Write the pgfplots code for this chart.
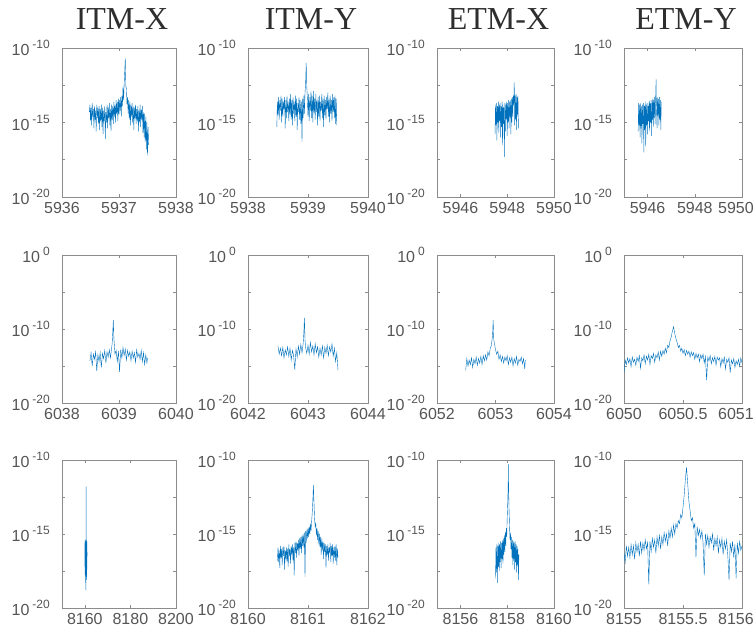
\documentclass[border=0pt]{standalone}
\usepackage{fontspec}
\setmainfont{Liberation Serif}
\newfontfamily\ticksf{Liberation Sans}
\usepackage{pgfplots}
\pgfplotsset{compat=1.18}
\definecolor{mblue}{HTML}{0072BD}
\definecolor{axgray}{HTML}{8C8C8C}
\definecolor{lblgray}{HTML}{555555}
\definecolor{ttlgray}{HTML}{2E2E2E}
\newcommand\pw[1]{10\hspace{3pt}\raisebox{7pt}{\fontsize{12}{12}\selectfont #1}}
\newcommand\rl[1]{\hspace*{-12pt}#1}
\pgfplotsset{
  panel/.style={
    scale only axis, anchor=south west,
    axis line style={axgray, line width=0.8pt},
    tick style={axgray, line width=0.6pt},
    tick align=inside, major tick length=3pt, minor tick length=3pt,
    tick label style={font=\ticksf\fontsize{16}{16}\selectfont, text=lblgray},
    xticklabel style={inner sep=0pt, anchor=north, yshift=-5pt},
    yticklabel style={inner sep=0pt, anchor=east, xshift=-12pt},
    title style={font=\fontsize{32}{32}\selectfont, text=ttlgray, at={(0.5,1)}, anchor=base, yshift=12pt, xshift=3pt},
    cycle list={{mblue, line width=1.2pt, line join=round, no marks}},
  },
  r1/.style={ymin=-20, ymax=-10, ytick={-20,-15,-10}, yticklabels={\pw{-20},\pw{-15},\pw{-10}}, minor ytick={-17.5,-12.5}},
  r2/.style={ymin=-20, ymax=0, ytick={-20,-10,0}, yticklabels={\pw{-20},\pw{-10},\pw{0}}, minor ytick={-15,-5}},
}
\begin{document}
\begin{tikzpicture}
\useasboundingbox (0,0) rectangle (756pt,637pt);
% ---------------- Row 1 ----------------
\begin{axis}[panel, r1, at={(62pt,440pt)}, width=114pt, height=149pt,
  xmin=5936, xmax=5938, xtick={5936,5937,5938}, xticklabels={5936,5937,5938}, title={ITM-X}]
\addplot table[row sep=\\]{x y\\
5936.48 -14.3\\ 5936.49 -13.8\\ 5936.50 -14.9\\ 5936.51 -14.0\\ 5936.52 -15.2\\ 5936.53 -13.7\\ 5936.54 -14.6\\ 5936.55 -14.1\\
5936.56 -15.4\\ 5936.57 -13.9\\ 5936.58 -14.8\\ 5936.59 -14.2\\ 5936.60 -15.6\\ 5936.61 -13.8\\ 5936.62 -14.7\\ 5936.63 -14.0\\
5936.64 -15.1\\ 5936.65 -13.9\\ 5936.66 -15.5\\ 5936.67 -14.1\\ 5936.68 -14.9\\ 5936.69 -13.8\\ 5936.70 -15.3\\ 5936.71 -14.0\\
5936.72 -15.8\\ 5936.73 -14.2\\ 5936.74 -14.9\\ 5936.75 -13.9\\ 5936.76 -16.1\\ 5936.77 -14.3\\ 5936.78 -15.0\\ 5936.79 -13.8\\
5936.80 -15.4\\ 5936.81 -14.0\\ 5936.82 -14.7\\ 5936.83 -13.7\\ 5936.84 -15.2\\ 5936.85 -14.1\\ 5936.86 -15.6\\ 5936.87 -13.8\\
5936.88 -14.8\\ 5936.89 -13.9\\ 5936.90 -15.1\\ 5936.91 -13.6\\ 5936.92 -14.6\\ 5936.93 -13.8\\ 5936.94 -15.0\\ 5936.95 -13.5\\
5936.96 -14.4\\ 5936.97 -13.6\\ 5936.98 -14.9\\ 5936.99 -13.4\\ 5937.00 -14.5\\ 5937.01 -13.5\\ 5937.02 -14.2\\ 5937.03 -13.3\\
5937.04 -14.6\\ 5937.05 -13.2\\ 5937.06 -13.9\\ 5937.07 -12.6\\ 5937.08 -13.5\\ 5937.09 -12.5\\ 5937.10 -11.6\\ 5937.11 -10.7\\
5937.12 -12.6\\ 5937.13 -12.7\\ 5937.14 -13.8\\ 5937.15 -13.3\\ 5937.16 -14.4\\ 5937.17 -13.5\\ 5937.18 -14.8\\ 5937.19 -13.6\\
5937.20 -15.2\\ 5937.21 -13.8\\ 5937.22 -14.6\\ 5937.23 -13.7\\ 5937.24 -15.0\\ 5937.25 -13.9\\ 5937.26 -15.5\\ 5937.27 -14.0\\
5937.28 -14.7\\ 5937.29 -13.8\\ 5937.30 -15.1\\ 5937.31 -14.1\\ 5937.32 -14.9\\ 5937.33 -13.9\\ 5937.34 -15.6\\ 5937.35 -14.2\\
5937.36 -15.0\\ 5937.37 -13.8\\ 5937.38 -15.3\\ 5937.39 -14.1\\ 5937.40 -14.8\\ 5937.41 -13.9\\ 5937.42 -15.7\\ 5937.43 -14.3\\
5937.44 -16.0\\ 5937.45 -14.4\\ 5937.46 -16.3\\ 5937.47 -14.6\\ 5937.48 -16.8\\ 5937.49 -15.0\\ 5937.50 -17.2\\ 5937.51 -15.3\\
5937.52 -16.5\\
};
\end{axis}
\begin{axis}[panel, r1, at={(248pt,440pt)}, width=120pt, height=149pt,
  xmin=5938, xmax=5940, xtick={5938,5939,5940}, xticklabels={5938,5939,5940}, title={ITM-Y}]
\addplot table[row sep=\\]{x y\\
5938.48 -15.3\\ 5938.49 -13.6\\ 5938.50 -14.5\\ 5938.51 -13.3\\ 5938.52 -14.8\\ 5938.53 -13.5\\ 5938.54 -14.2\\ 5938.55 -13.2\\
5938.56 -15.0\\ 5938.57 -13.4\\ 5938.58 -14.6\\ 5938.59 -13.6\\ 5938.60 -14.1\\ 5938.61 -13.3\\ 5938.62 -15.4\\ 5938.63 -13.5\\
5938.64 -14.7\\ 5938.65 -13.2\\ 5938.66 -14.3\\ 5938.67 -13.6\\ 5938.68 -14.9\\ 5938.69 -13.4\\ 5938.70 -14.5\\ 5938.71 -13.1\\
5938.72 -14.8\\ 5938.73 -13.5\\ 5938.74 -15.2\\ 5938.75 -13.3\\ 5938.76 -14.4\\ 5938.77 -13.6\\ 5938.78 -14.9\\ 5938.79 -13.2\\
5938.80 -14.6\\ 5938.81 -13.4\\ 5938.82 -15.5\\ 5938.83 -13.7\\ 5938.84 -14.3\\ 5938.85 -13.3\\ 5938.86 -14.8\\ 5938.87 -13.5\\
5938.88 -15.1\\ 5938.89 -13.6\\ 5938.90 -16.3\\ 5938.91 -13.4\\ 5938.92 -14.7\\ 5938.93 -13.2\\ 5938.94 -14.4\\ 5938.95 -13.0\\
5938.96 -12.4\\ 5938.97 -11.0\\ 5938.98 -12.6\\ 5938.99 -13.4\\ 5939.00 -14.6\\ 5939.01 -13.1\\ 5939.02 -14.9\\ 5939.03 -13.3\\
5939.04 -14.2\\ 5939.05 -12.9\\ 5939.06 -14.7\\ 5939.07 -13.2\\ 5939.08 -15.0\\ 5939.09 -12.9\\ 5939.10 -14.4\\ 5939.11 -13.4\\
5939.12 -14.8\\ 5939.13 -13.1\\ 5939.14 -14.3\\ 5939.15 -13.5\\ 5939.16 -15.2\\ 5939.17 -13.3\\ 5939.18 -14.6\\ 5939.19 -13.2\\
5939.20 -14.9\\ 5939.21 -13.6\\ 5939.22 -14.2\\ 5939.23 -13.1\\ 5939.24 -14.7\\ 5939.25 -13.4\\ 5939.26 -15.3\\ 5939.27 -13.2\\
5939.28 -14.5\\ 5939.29 -13.5\\ 5939.30 -14.8\\ 5939.31 -13.3\\ 5939.32 -14.1\\ 5939.33 -13.0\\ 5939.34 -14.6\\ 5939.35 -13.4\\
5939.36 -15.0\\ 5939.37 -13.2\\ 5939.38 -14.4\\ 5939.39 -13.5\\ 5939.40 -14.9\\ 5939.41 -13.1\\ 5939.42 -14.3\\ 5939.43 -13.3\\
5939.44 -14.7\\ 5939.45 -13.2\\ 5939.46 -15.1\\ 5939.47 -13.4\\ 5939.48 -15.2\\
};
\end{axis}
\begin{axis}[panel, r1, at={(437pt,440pt)}, width=117pt, height=149pt,
  xmin=5945, xmax=5950, xtick={5946,5948,5950}, xticklabels={5946,5948,5950}, title={ETM-X}]
\addplot table[row sep=\\]{x y\\
5947.48 -15.8\\ 5947.50 -13.8\\ 5947.52 -15.2\\ 5947.54 -13.7\\ 5947.56 -16.2\\ 5947.58 -13.9\\ 5947.60 -15.0\\ 5947.62 -13.6\\
5947.64 -15.7\\ 5947.66 -13.8\\ 5947.68 -14.9\\ 5947.70 -13.7\\ 5947.72 -16.0\\ 5947.74 -13.9\\ 5947.76 -15.3\\ 5947.78 -13.6\\
5947.80 -16.5\\ 5947.82 -13.8\\ 5947.84 -15.1\\ 5947.86 -14.0\\ 5947.88 -17.3\\ 5947.90 -13.7\\ 5947.92 -15.6\\ 5947.94 -13.8\\
5947.96 -14.8\\ 5947.98 -13.6\\ 5948.00 -15.9\\ 5948.02 -13.7\\ 5948.04 -15.0\\ 5948.06 -13.5\\ 5948.08 -15.4\\ 5948.10 -13.6\\
5948.12 -14.7\\ 5948.14 -13.5\\ 5948.16 -15.8\\ 5948.18 -13.4\\ 5948.20 -15.0\\ 5948.22 -13.3\\ 5948.24 -14.6\\ 5948.26 -13.2\\
5948.28 -13.8\\ 5948.30 -12.3\\ 5948.31 -13.4\\ 5948.32 -15.2\\ 5948.34 -13.2\\ 5948.36 -14.8\\ 5948.38 -13.1\\ 5948.40 -15.5\\
5948.42 -13.3\\ 5948.44 -14.6\\ 5948.46 -13.2\\ 5948.48 -15.4\\
};
\end{axis}
\begin{axis}[panel, r1, at={(624pt,440pt)}, width=118pt, height=149pt,
  xmin=5945, xmax=5950, xtick={5946,5948,5950}, xticklabels={5946,5948,\rl{5950}}, title={ETM-Y}]
\addplot table[row sep=\\]{x y\\
5945.60 -15.6\\ 5945.62 -13.7\\ 5945.64 -15.2\\ 5945.66 -13.8\\ 5945.68 -16.0\\ 5945.70 -13.7\\ 5945.72 -15.4\\ 5945.74 -13.9\\
5945.76 -16.4\\ 5945.78 -13.8\\ 5945.80 -15.1\\ 5945.82 -13.7\\ 5945.84 -17.0\\ 5945.86 -13.9\\ 5945.88 -15.5\\ 5945.90 -13.6\\
5945.92 -16.6\\ 5945.94 -13.8\\ 5945.96 -15.2\\ 5945.98 -13.7\\ 5946.00 -15.8\\ 5946.02 -13.9\\ 5946.04 -14.9\\ 5946.06 -13.6\\
5946.08 -15.6\\ 5946.10 -13.5\\ 5946.12 -15.0\\ 5946.14 -13.7\\ 5946.16 -15.9\\ 5946.18 -13.5\\ 5946.20 -14.8\\ 5946.22 -13.4\\
5946.24 -15.3\\ 5946.26 -13.5\\ 5946.28 -14.7\\ 5946.30 -13.3\\ 5946.32 -15.1\\ 5946.34 -13.4\\ 5946.36 -12.1\\ 5946.37 -13.6\\
5946.40 -15.4\\ 5946.42 -13.3\\ 5946.44 -14.6\\ 5946.46 -13.4\\ 5946.48 -15.2\\ 5946.50 -13.3\\ 5946.52 -14.8\\ 5946.54 -13.5\\
5946.56 -15.5\\ 5946.58 -13.6\\
};
\end{axis}
% ---------------- Row 2 ----------------
\begin{axis}[panel, r2, at={(62pt,234pt)}, width=114pt, height=148pt,
  xmin=6038, xmax=6040, xtick={6038,6039,6040}, xticklabels={6038,6039,6040}]
\addplot table[row sep=\\]{x y\\
6038.49 -14.3\\ 6038.51 -13.2\\ 6038.53 -15.0\\ 6038.55 -13.4\\ 6038.57 -14.1\\ 6038.59 -13.1\\ 6038.61 -15.7\\ 6038.63 -13.5\\
6038.65 -14.4\\ 6038.67 -13.2\\ 6038.69 -15.2\\ 6038.71 -13.3\\ 6038.73 -14.0\\ 6038.75 -12.9\\ 6038.77 -14.6\\ 6038.79 -13.1\\
6038.81 -13.8\\ 6038.83 -12.8\\ 6038.85 -13.9\\ 6038.87 -12.6\\ 6038.88 -12.0\\ 6038.89 -10.5\\ 6038.90 -8.8\\ 6038.91 -11.2\\
6038.92 -12.3\\ 6038.93 -13.4\\ 6038.95 -12.9\\ 6038.97 -14.4\\ 6038.99 -13.0\\ 6039.01 -15.8\\ 6039.03 -12.8\\ 6039.05 -13.9\\
6039.07 -12.5\\ 6039.09 -13.6\\ 6039.11 -12.7\\ 6039.13 -14.2\\ 6039.15 -12.9\\ 6039.17 -13.7\\ 6039.19 -13.1\\ 6039.21 -14.3\\
6039.23 -13.0\\ 6039.25 -13.9\\ 6039.27 -13.2\\ 6039.29 -14.5\\ 6039.31 -12.8\\ 6039.33 -13.8\\ 6039.35 -13.3\\ 6039.37 -14.1\\
6039.39 -12.9\\ 6039.41 -14.4\\ 6039.43 -13.2\\ 6039.45 -14.8\\ 6039.47 -13.5\\ 6039.49 -14.6\\ 6039.50 -13.9\\
};
\end{axis}
\begin{axis}[panel, r2, at={(248pt,234pt)}, width=120pt, height=148pt,
  xmin=6042, xmax=6044, xtick={6042,6043,6044}, xticklabels={6042,6043,6044}]
\addplot table[row sep=\\]{x y\\
6042.50 -12.3\\ 6042.52 -13.4\\ 6042.54 -12.6\\ 6042.56 -13.6\\ 6042.58 -12.5\\ 6042.60 -13.9\\ 6042.62 -12.8\\ 6042.64 -13.5\\
6042.66 -12.4\\ 6042.68 -13.7\\ 6042.70 -12.6\\ 6042.72 -14.2\\ 6042.74 -12.9\\ 6042.76 -13.6\\ 6042.78 -15.5\\ 6042.80 -12.7\\
6042.82 -13.8\\ 6042.84 -12.3\\ 6042.86 -13.4\\ 6042.88 -12.1\\ 6042.90 -13.2\\ 6042.92 -11.9\\ 6042.93 -10.6\\ 6042.94 -8.5\\
6042.95 -11.4\\ 6042.96 -12.5\\ 6042.98 -13.3\\ 6043.00 -12.2\\ 6043.02 -13.4\\ 6043.04 -11.8\\ 6043.06 -13.1\\ 6043.08 -12.3\\
6043.10 -13.5\\ 6043.12 -12.0\\ 6043.14 -13.2\\ 6043.16 -12.4\\ 6043.18 -13.8\\ 6043.20 -12.6\\ 6043.22 -13.5\\ 6043.24 -12.3\\
6043.26 -13.9\\ 6043.28 -12.5\\ 6043.30 -13.3\\ 6043.32 -12.2\\ 6043.34 -13.6\\ 6043.36 -12.4\\ 6043.38 -13.1\\ 6043.40 -12.0\\
6043.42 -13.7\\ 6043.44 -12.6\\ 6043.46 -14.4\\ 6043.48 -13.2\\ 6043.50 -15.6\\
};
\end{axis}
\begin{axis}[panel, r2, at={(437pt,234pt)}, width=117pt, height=148pt,
  xmin=6052, xmax=6054, xtick={6052,6053,6054}, xticklabels={6052,6053,6054}]
\addplot table[row sep=\\]{x y\\
6052.49 -15.6\\ 6052.51 -14.0\\ 6052.53 -15.0\\ 6052.55 -14.2\\ 6052.57 -14.8\\ 6052.59 -13.9\\ 6052.61 -15.2\\ 6052.63 -14.1\\
6052.65 -14.7\\ 6052.67 -13.8\\ 6052.69 -14.9\\ 6052.71 -14.0\\ 6052.73 -14.6\\ 6052.75 -13.7\\ 6052.77 -14.8\\ 6052.79 -13.6\\
6052.81 -14.3\\ 6052.83 -13.5\\ 6052.85 -14.2\\ 6052.87 -13.1\\ 6052.89 -13.6\\ 6052.91 -12.6\\ 6052.93 -12.2\\ 6052.95 -10.8\\
6052.96 -8.8\\ 6052.97 -11.4\\ 6052.98 -11.9\\ 6053.00 -12.8\\ 6053.02 -13.4\\ 6053.04 -13.0\\ 6053.06 -14.1\\ 6053.08 -13.5\\
6053.10 -14.4\\ 6053.12 -13.7\\ 6053.14 -14.6\\ 6053.16 -13.8\\ 6053.18 -14.3\\ 6053.20 -13.6\\ 6053.22 -14.8\\ 6053.24 -13.9\\
6053.26 -14.5\\ 6053.28 -13.8\\ 6053.30 -15.0\\ 6053.32 -14.0\\ 6053.34 -14.6\\ 6053.36 -13.7\\ 6053.38 -14.9\\ 6053.40 -14.1\\
6053.42 -14.4\\ 6053.44 -13.8\\ 6053.46 -14.7\\ 6053.48 -14.0\\ 6053.50 -15.4\\ 6053.51 -14.2\\
};
\end{axis}
\begin{axis}[panel, r2, at={(624pt,234pt)}, width=118pt, height=148pt,
  xmin=6050, xmax=6051, xtick={6050,6050.5,6051}, xticklabels={6050,6050.5,\rl{6051}}]
\addplot table[row sep=\\]{x y\\
6050.00 -15.9\\ 6050.01 -14.2\\ 6050.02 -14.8\\ 6050.03 -13.9\\ 6050.04 -14.6\\ 6050.05 -14.0\\ 6050.06 -15.1\\ 6050.07 -13.8\\
6050.08 -14.5\\ 6050.09 -14.1\\ 6050.10 -14.9\\ 6050.11 -13.8\\ 6050.12 -14.4\\ 6050.13 -13.6\\ 6050.14 -15.3\\ 6050.15 -13.9\\
6050.16 -14.3\\ 6050.17 -13.5\\ 6050.18 -14.7\\ 6050.19 -13.7\\ 6050.20 -14.2\\ 6050.21 -13.4\\ 6050.22 -14.8\\ 6050.23 -13.6\\
6050.24 -14.0\\ 6050.25 -13.3\\ 6050.26 -14.5\\ 6050.27 -13.5\\ 6050.28 -13.9\\ 6050.29 -13.1\\ 6050.30 -14.2\\ 6050.31 -13.0\\
6050.32 -13.7\\ 6050.33 -12.9\\ 6050.34 -13.4\\ 6050.35 -12.6\\ 6050.36 -13.2\\ 6050.37 -12.2\\ 6050.38 -12.5\\ 6050.39 -11.6\\
6050.40 -11.1\\ 6050.41 -10.3\\ 6050.42 -9.7\\ 6050.43 -10.6\\ 6050.44 -11.3\\ 6050.45 -11.8\\ 6050.46 -12.5\\ 6050.47 -12.2\\
6050.48 -13.0\\ 6050.49 -12.6\\ 6050.50 -13.3\\ 6050.51 -12.8\\ 6050.52 -13.6\\ 6050.53 -12.9\\ 6050.54 -13.4\\ 6050.55 -13.0\\
6050.56 -13.8\\ 6050.57 -13.1\\ 6050.58 -13.6\\ 6050.59 -13.2\\ 6050.60 -14.1\\ 6050.61 -13.3\\ 6050.62 -13.9\\ 6050.63 -13.4\\
6050.64 -14.4\\ 6050.65 -13.5\\ 6050.66 -14.0\\ 6050.67 -13.4\\ 6050.68 -14.6\\ 6050.69 -13.7\\ 6050.70 -16.9\\ 6050.71 -13.8\\
6050.72 -14.3\\ 6050.73 -13.6\\ 6050.74 -14.7\\ 6050.75 -13.9\\ 6050.76 -14.4\\ 6050.77 -13.7\\ 6050.78 -14.9\\ 6050.79 -13.8\\
6050.80 -14.2\\ 6050.81 -13.9\\ 6050.82 -15.1\\ 6050.83 -14.0\\ 6050.84 -14.6\\ 6050.85 -13.8\\ 6050.86 -15.4\\ 6050.87 -14.1\\
6050.88 -14.5\\ 6050.89 -13.9\\ 6050.90 -15.9\\ 6050.91 -14.2\\ 6050.92 -14.7\\ 6050.93 -14.0\\ 6050.94 -15.2\\ 6050.95 -14.3\\
6050.96 -14.8\\ 6050.97 -14.1\\ 6050.98 -15.0\\ 6050.99 -13.9\\ 6051.00 -14.6\\
};
\end{axis}
% ---------------- Row 3 ----------------
\begin{axis}[panel, r1, at={(62pt,29pt)}, width=114pt, height=148pt,
  xmin=8150, xmax=8200, xtick={8160,8180,8200}, xticklabels={8160,8180,8200}]
\addplot table[row sep=\\]{x y\\
8160.00 -17.2\\ 8160.05 -15.6\\ 8160.10 -17.8\\ 8160.15 -15.4\\ 8160.20 -16.9\\ 8160.25 -15.8\\ 8160.30 -18.3\\ 8160.35 -15.5\\
8160.40 -17.5\\ 8160.45 -15.7\\ 8160.50 -18.8\\ 8160.55 -15.3\\ 8160.60 -11.8\\ 8160.62 -15.6\\ 8160.65 -17.9\\ 8160.70 -15.4\\
8160.75 -17.1\\ 8160.80 -15.9\\ 8160.85 -18.1\\ 8160.90 -15.5\\ 8160.95 -17.4\\ 8161.00 -16.2\\
};
\end{axis}
\begin{axis}[panel, r1, at={(248pt,29pt)}, width=120pt, height=148pt,
  xmin=8160, xmax=8162, xtick={8160,8161,8162}, xticklabels={8160,8161,8162}]
\addplot table[row sep=\\]{x y\\
8160.49 -16.8\\ 8160.50 -15.9\\ 8160.51 -16.9\\ 8160.52 -16.1\\ 8160.53 -17.3\\ 8160.54 -15.8\\ 8160.55 -16.6\\ 8160.56 -16.0\\
8160.57 -17.1\\ 8160.58 -15.9\\ 8160.59 -16.5\\ 8160.60 -15.8\\ 8160.61 -17.4\\ 8160.62 -16.1\\ 8160.63 -16.7\\ 8160.64 -15.9\\
8160.65 -16.9\\ 8160.66 -16.0\\ 8160.67 -17.2\\ 8160.68 -15.7\\ 8160.69 -16.5\\ 8160.70 -16.0\\ 8160.71 -17.0\\ 8160.72 -15.8\\
8160.73 -16.4\\ 8160.74 -15.7\\ 8160.75 -16.8\\ 8160.76 -15.9\\ 8160.77 -17.8\\ 8160.78 -15.6\\ 8160.79 -16.3\\ 8160.80 -15.5\\
8160.81 -16.6\\ 8160.82 -15.6\\ 8160.83 -16.1\\ 8160.84 -15.4\\ 8160.85 -16.5\\ 8160.86 -15.3\\ 8160.87 -16.0\\ 8160.88 -15.2\\
8160.89 -16.3\\ 8160.90 -15.1\\ 8160.91 -15.8\\ 8160.92 -15.0\\ 8160.93 -15.9\\ 8160.94 -14.9\\ 8160.95 -17.9\\ 8160.96 -14.8\\
8160.97 -15.6\\ 8160.98 -14.7\\ 8160.99 -15.3\\ 8161.00 -14.6\\ 8161.01 -15.2\\ 8161.02 -14.5\\ 8161.03 -15.0\\ 8161.04 -14.3\\
8161.05 -14.8\\ 8161.06 -14.2\\ 8161.07 -13.6\\ 8161.08 -12.8\\ 8161.09 -11.7\\ 8161.10 -12.9\\ 8161.11 -14.0\\ 8161.12 -14.5\\
8161.13 -14.3\\ 8161.14 -15.1\\ 8161.15 -14.6\\ 8161.16 -15.4\\ 8161.17 -14.8\\ 8161.18 -15.7\\ 8161.19 -15.0\\ 8161.20 -15.9\\
8161.21 -15.2\\ 8161.22 -16.4\\ 8161.23 -15.3\\ 8161.24 -16.1\\ 8161.25 -15.5\\ 8161.26 -16.7\\ 8161.27 -15.6\\ 8161.28 -16.2\\
8161.29 -15.7\\ 8161.30 -17.3\\ 8161.31 -15.8\\ 8161.32 -16.4\\ 8161.33 -15.7\\ 8161.34 -16.8\\ 8161.35 -15.9\\ 8161.36 -16.3\\
8161.37 -15.6\\ 8161.38 -16.9\\ 8161.39 -15.8\\ 8161.40 -16.5\\ 8161.41 -15.7\\ 8161.42 -17.0\\ 8161.43 -15.9\\ 8161.44 -16.6\\
8161.45 -15.8\\ 8161.46 -16.8\\ 8161.47 -15.7\\ 8161.48 -17.1\\ 8161.49 -16.0\\ 8161.50 -16.6\\
};
\end{axis}
\begin{axis}[panel, r1, at={(437pt,29pt)}, width=117pt, height=148pt,
  xmin=8155, xmax=8160, xtick={8156,8158,8160}, xticklabels={8156,8158,8160}]
\addplot table[row sep=\\]{x y\\
8157.50 -18.0\\ 8157.52 -15.9\\ 8157.54 -17.6\\ 8157.56 -15.7\\ 8157.58 -18.3\\ 8157.60 -15.8\\ 8157.62 -17.2\\ 8157.64 -15.6\\
8157.66 -17.5\\ 8157.68 -15.7\\ 8157.70 -16.9\\ 8157.72 -15.5\\ 8157.74 -17.3\\ 8157.76 -15.6\\ 8157.78 -16.7\\ 8157.80 -15.4\\
8157.82 -17.0\\ 8157.84 -15.3\\ 8157.86 -16.4\\ 8157.88 -15.1\\ 8157.90 -16.2\\ 8157.92 -14.9\\ 8157.94 -15.8\\ 8157.96 -14.6\\
8157.98 -15.2\\ 8158.00 -13.9\\ 8158.02 -13.0\\ 8158.04 -11.8\\ 8158.05 -10.3\\ 8158.06 -11.9\\ 8158.08 -13.4\\ 8158.10 -14.5\\
8158.12 -15.4\\ 8158.14 -14.9\\ 8158.16 -16.0\\ 8158.18 -15.2\\ 8158.20 -16.6\\ 8158.22 -15.4\\ 8158.24 -17.1\\ 8158.26 -15.5\\
8158.28 -16.8\\ 8158.30 -15.6\\ 8158.32 -17.4\\ 8158.34 -15.5\\ 8158.36 -16.9\\ 8158.38 -15.7\\ 8158.40 -17.6\\ 8158.42 -15.8\\
8158.44 -17.2\\ 8158.46 -16.0\\ 8158.48 -18.1\\ 8158.50 -16.4\\
};
\end{axis}
\begin{axis}[panel, r1, at={(624pt,29pt)}, width=118pt, height=148pt,
  xmin=8155, xmax=8156, xtick={8155,8155.5,8156}, xticklabels={8155,8155.5,\rl{8156}}]
\addplot table[row sep=\\]{x y\\
8155.00 -16.3\\ 8155.01 -16.9\\ 8155.02 -15.8\\ 8155.03 -16.5\\ 8155.04 -15.9\\ 8155.05 -16.6\\ 8155.06 -15.7\\ 8155.07 -16.4\\
8155.08 -15.8\\ 8155.09 -16.7\\ 8155.10 -15.6\\ 8155.11 -16.2\\ 8155.12 -15.7\\ 8155.13 -16.5\\ 8155.14 -15.5\\ 8155.15 -16.3\\
8155.16 -15.6\\ 8155.17 -16.1\\ 8155.18 -15.4\\ 8155.19 -16.0\\ 8155.20 -15.6\\ 8155.21 -18.4\\ 8155.22 -15.5\\ 8155.23 -16.2\\
8155.24 -15.3\\ 8155.25 -15.9\\ 8155.26 -15.4\\ 8155.27 -16.3\\ 8155.28 -15.2\\ 8155.29 -15.8\\ 8155.30 -15.1\\ 8155.31 -16.0\\
8155.32 -15.2\\ 8155.33 -15.7\\ 8155.34 -14.9\\ 8155.35 -15.5\\ 8155.36 -15.0\\ 8155.37 -15.8\\ 8155.38 -14.8\\ 8155.39 -15.3\\
8155.40 -14.6\\ 8155.41 -15.2\\ 8155.42 -14.4\\ 8155.43 -15.0\\ 8155.44 -14.3\\ 8155.45 -14.6\\ 8155.46 -14.1\\ 8155.47 -14.3\\
8155.48 -13.7\\ 8155.49 -13.9\\ 8155.50 -13.2\\ 8155.51 -12.4\\ 8155.52 -11.3\\ 8155.53 -10.5\\ 8155.54 -11.6\\ 8155.55 -12.8\\
8155.56 -13.4\\ 8155.57 -14.1\\ 8155.58 -13.9\\ 8155.59 -14.6\\ 8155.60 -14.3\\ 8155.61 -16.6\\ 8155.62 -14.5\\ 8155.63 -15.1\\
8155.64 -14.7\\ 8155.65 -15.3\\ 8155.66 -14.8\\ 8155.67 -15.6\\ 8155.68 -17.8\\ 8155.69 -15.0\\ 8155.70 -15.7\\ 8155.71 -15.1\\
8155.72 -15.9\\ 8155.73 -15.2\\ 8155.74 -15.6\\ 8155.75 -15.0\\ 8155.76 -16.1\\ 8155.77 -15.3\\ 8155.78 -15.8\\ 8155.79 -15.2\\
8155.80 -16.3\\ 8155.81 -15.4\\ 8155.82 -15.9\\ 8155.83 -15.3\\ 8155.84 -16.4\\ 8155.85 -15.5\\ 8155.86 -16.0\\ 8155.87 -15.4\\
8155.88 -16.5\\ 8155.89 -18.1\\ 8155.90 -15.6\\ 8155.91 -16.2\\ 8155.92 -15.5\\ 8155.93 -16.6\\ 8155.94 -15.7\\ 8155.95 -18.0\\
8155.96 -15.6\\ 8155.97 -16.3\\ 8155.98 -15.5\\ 8155.99 -16.1\\ 8156.00 -15.8\\
};
\end{axis}
\end{tikzpicture}
\end{document}
